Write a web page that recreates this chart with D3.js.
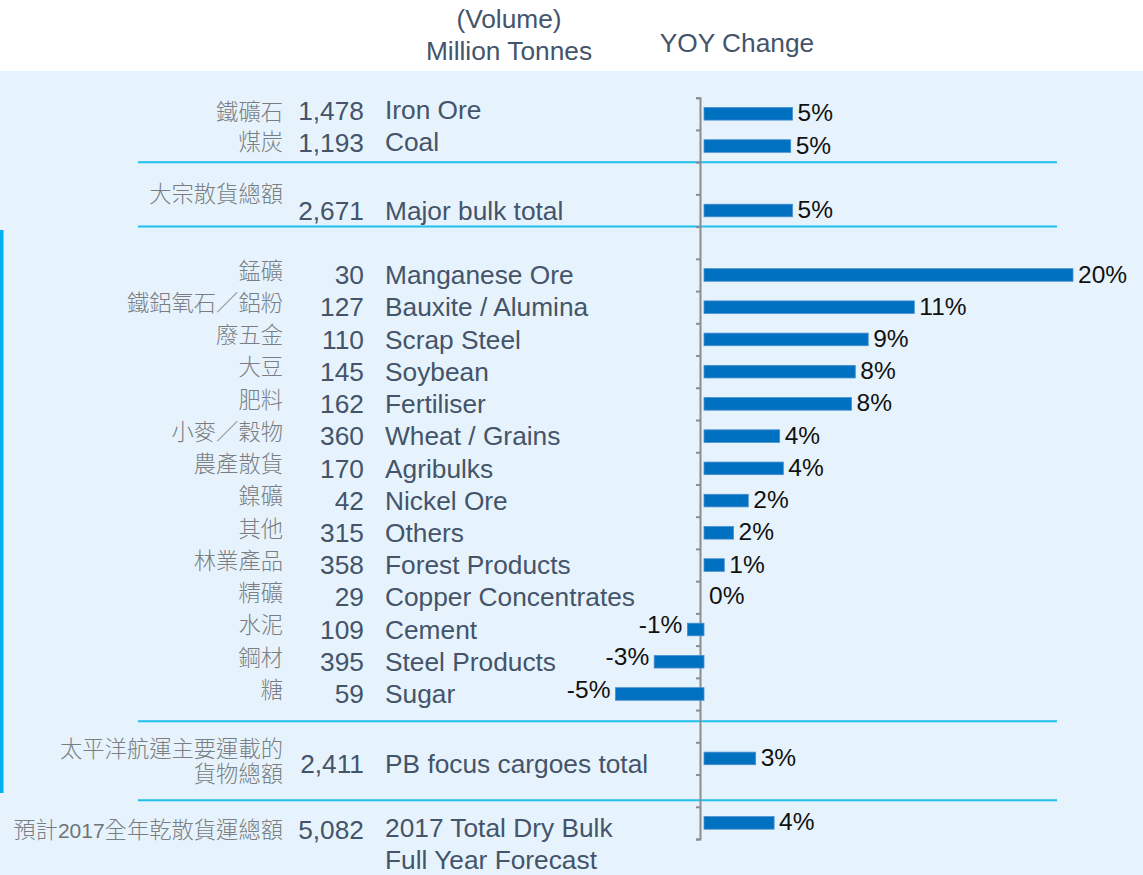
<!DOCTYPE html>
<html>
<head>
<meta charset="utf-8">
<script src="https://cdn.jsdelivr.net/npm/d3@7"></script>
<style>
  body { margin: 0; background: #fff; }
  svg text { font-family: "Liberation Sans", Arial, sans-serif; }
  .cn { font-family: "Noto Sans CJK TC", "Noto Sans CJK SC", sans-serif; font-weight: 300; }
  .cn .digits { font-family: "Liberation Sans", Arial, sans-serif; font-weight: 400; }
</style>
</head>
<body>
<div id="chart"></div>
<script>
const width = 1143, height = 875;

// rows of the chart, null = empty spacer row
const cnLabels = ["鐵礦石", "煤炭", null, "大宗散貨總額", null,
  "錳礦", "鐵鋁氧石／鋁粉", "廢五金", "大豆", "肥料", "小麥／穀物", "農產散貨", "鎳礦", "其他", "林業產品", "精礦", "水泥", "鋼材", "糖",
  null, "太平洋航運主要運載的\n貨物總額", null, "預計2017全年乾散貨運總額"];
const enLabels = ["Iron Ore", "Coal", null, "Major bulk total", null,
  "Manganese Ore", "Bauxite / Alumina", "Scrap Steel", "Soybean", "Fertiliser", "Wheat / Grains", "Agribulks", "Nickel Ore", "Others", "Forest Products", "Copper Concentrates", "Cement", "Steel Products", "Sugar",
  null, "PB focus cargoes total", null, "2017 Total Dry Bulk\nFull Year Forecast"];
const volumes = [1478, 1193, null, 2671, null,
  30, 127, 110, 145, 162, 360, 170, 42, 315, 358, 29, 109, 395, 59,
  null, 2411, null, 5082];
// YOY change in %
const yoy = [4.8, 4.7, null, 4.8, null,
  20, 11.4, 8.9, 8.2, 8.0, 4.1, 4.3, 2.4, 1.6, 1.1, 0, -0.9, -2.7, -4.8,
  null, 2.8, null, 3.8];

const rows = d3.range(yoy.length);

const svg = d3.select("#chart").append("svg")
    .attr("width", width)
    .attr("height", height);

// light panel + accents
svg.append("rect").attr("x", 0).attr("y", 71).attr("width", width).attr("height", height - 71).attr("fill", "#e7f3fc");
svg.append("rect").attr("x", 0).attr("y", 230).attr("width", 3.5).attr("height", 563).attr("fill", "#00b0f0");

const yTop = 97.7, yBottom = 839;
const y = d3.scaleBand().domain(rows).range([yTop, yBottom]).paddingInner(0).paddingOuter(0);
const yEdge = d3.scaleLinear().domain([0, rows.length]).range([yTop, yBottom]);
const x = d3.scaleLinear().domain([0, 20]).range([704, 1073]);
const fmt = d3.format(".0f");

// separators between groups
const seps = [2, 4, 19.35, 21.8];
svg.append("g").selectAll("line")
    .data(seps).enter()
    .append("line")
    .attr("x1", 138).attr("x2", 1057)
    .attr("y1", d => yEdge(d)).attr("y2", d => yEdge(d))
    .attr("stroke", "#1fbfee")
    .attr("stroke-width", 2);

// headers
const head = svg.append("g").attr("fill", "#44546a").attr("font-size", 26.3).attr("text-anchor", "middle");
head.append("text").attr("x", 509).attr("y", 28).text("(Volume)");
head.append("text").attr("x", 509).attr("y", 60).text("Million Tonnes");
head.append("text").attr("x", 737).attr("y", 52).text("YOY Change");

// per-row text shifts (layout only)
const cnShift = {0: -2, 3: -16, 20: -9, 22: 7};
const numShift = {0: -3, 1: -3, 20: 5, 22: 7};
const enShift = {0: -4, 1: -4, 20: 5, 22: 5};

const cy = i => y(i) + y.bandwidth() / 2;

// chinese labels (latin digits set in a sans face, as in the original)
const cn = svg.append("g").attr("class", "cn").attr("fill", "#7a7e83").attr("font-size", 22.3).attr("text-anchor", "end");
rows.filter(i => cnLabels[i]).forEach(i => {
  const t = cn.append("text")
      .attr("class", "cn")
      .attr("y", cy(i) + (cnShift[i] !== undefined ? cnShift[i] : -4));
  cnLabels[i].split("\n").forEach((l, k) => {
    const parts = l.split(/(\d+)/).filter(p => p !== "");
    parts.forEach((p, j) => {
      const s = t.append("tspan").text(p);
      if (j === 0) s.attr("x", 283).attr("dy", k === 0 ? "0.35em" : "1.12em");
      if (/^\d+$/.test(p)) s.attr("class", "digits").attr("font-size", 21).attr("fill", "#6f7378");
    });
  });
});

// volumes
svg.append("g").selectAll("text")
    .data(rows.filter(i => volumes[i] !== null)).enter()
    .append("text")
    .attr("x", 364)
    .attr("y", i => cy(i) + (numShift[i] || 0))
    .attr("dy", "0.35em")
    .attr("text-anchor", "end")
    .attr("font-size", 26.3)
    .attr("fill", "#44546a")
    .text(i => d3.format(",")(volumes[i]));

// english labels
const en = svg.append("g").attr("fill", "#44546a").attr("font-size", 26.3);
rows.filter(i => enLabels[i]).forEach(i => {
  const t = en.append("text").attr("y", cy(i) + (enShift[i] || 0));
  enLabels[i].split("\n").forEach((l, k) => {
    t.append("tspan").attr("x", 385).attr("dy", k === 0 ? "0.35em" : "1.22em").text(l);
  });
});

// axis with ticks between rows
svg.append("g")
    .attr("transform", "translate(700,0)")
    .call(d3.axisLeft(yEdge).tickValues(d3.range(rows.length + 1)).tickSize(4).tickSizeOuter(4).tickFormat(""))
    .call(g => g.selectAll("path, line").attr("stroke", "#8c8c8c").attr("stroke-width", 2));

// bars
const barH = 12.6;
const withBar = rows.filter(i => yoy[i] !== null);
svg.append("g").selectAll("rect")
    .data(withBar).enter()
    .append("rect")
    .attr("x", i => Math.min(x(0), x(yoy[i])))
    .attr("y", i => cy(i) - barH / 2)
    .attr("width", i => Math.abs(x(yoy[i]) - x(0)))
    .attr("height", barH)
    .attr("fill", "#0070c0")
    .attr("stroke", i => yoy[i] === 0 ? "none" : "#4a8fd0")
    .attr("stroke-width", 0.8);

// value labels
svg.append("g").selectAll("text")
    .data(withBar).enter()
    .append("text")
    .attr("x", i => yoy[i] < 0 ? x(yoy[i]) - 5 : x(yoy[i]) + 5)
    .attr("y", i => cy(i) + (yoy[i] < 0 ? -5 : (yoy[i] === 0 ? -2 : -1)))
    .attr("dy", "0.35em")
    .attr("text-anchor", i => yoy[i] < 0 ? "end" : "start")
    .attr("font-size", 24.5)
    .attr("fill", "#111")
    .text(i => {
      let v = fmt(yoy[i]).replace("\u2212", "-");
      if (v === "-0") v = "0";
      return v + "%";
    });
</script>
</body>
</html>
